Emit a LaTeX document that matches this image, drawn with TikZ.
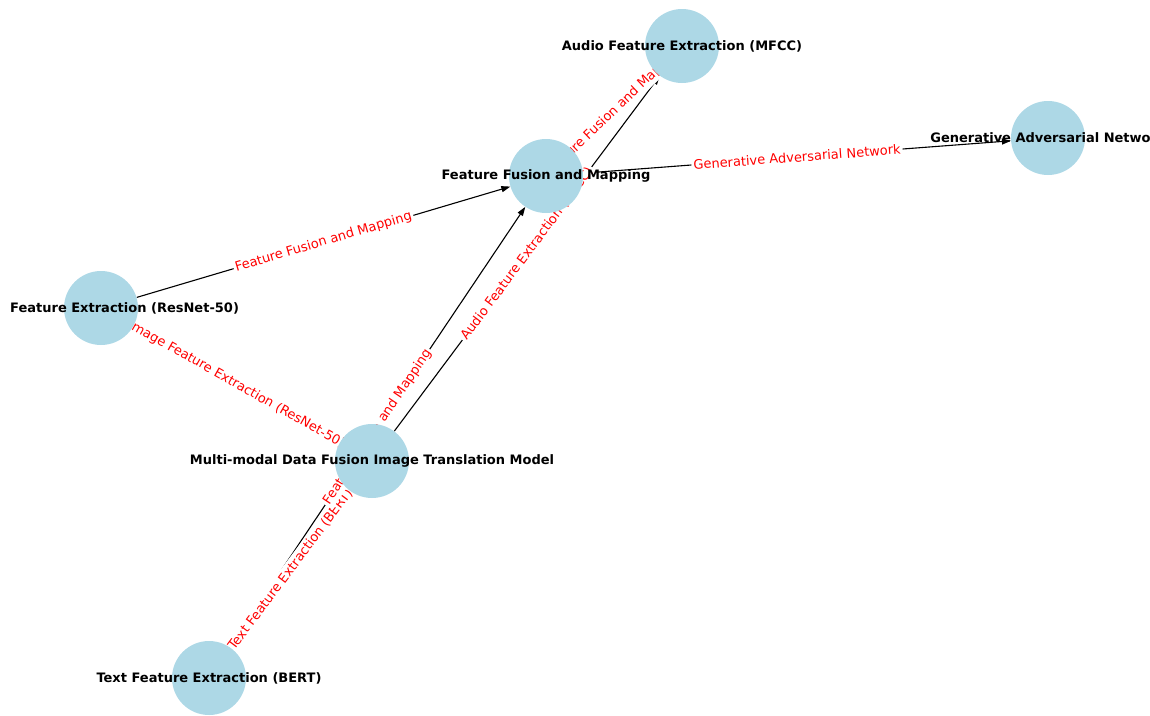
\documentclass[tikz,border=0pt]{standalone}
\usepackage{fontspec}
\setsansfont{DejaVu Sans}
\usetikzlibrary{arrows.meta}
\pgfdeclarelayer{edgelayer}
\pgfdeclarelayer{labellayer}
\pgfdeclarelayer{textlayer}
\pgfsetlayers{edgelayer,labellayer,main,textlayer}
\definecolor{nodeblue}{HTML}{ADD8E6}
\definecolor{lblred}{HTML}{FF0000}
\tikzset{
  vertex/.style={circle, fill=nodeblue, draw=none, minimum size=74pt, inner sep=0pt},
  vtext/.style={font=\sffamily\bfseries\fontsize{13}{15}\selectfont, text=black, inner sep=0pt},
  conn/.style={draw=black, line width=1.1pt, -{Triangle[length=9pt,width=6pt]}},
  elabel/.style={font=\sffamily\fontsize{13}{15}\selectfont, text=lblred, fill=white, rounded corners=3pt, inner sep=2pt, sloped, midway},
}
\begin{document}
\begin{tikzpicture}[x=1pt,y=-1pt]
\useasboundingbox (0,0) rectangle (1150,715);
% circles
\node[vertex] (audio)  at (682,46)  {};
\node[vertex] (gan)    at (1048,138) {};
\node[vertex] (ffm)    at (546,176) {};
\node[vertex] (resnet) at (101,308) {};
\node[vertex] (mm)     at (372,461) {};
\node[vertex] (text)   at (209,678) {};
% node texts
\begin{pgfonlayer}{textlayer}
\node[vtext] (audio-t)  at (audio)  {Audio Feature Extraction (MFCC)};
\node[vtext] (gan-t)    at (gan)    {Generative Adversarial Network};
\node[vtext] (ffm-t)    at (ffm)    {Feature Fusion and Mapping};
\node[vtext, anchor=west] (resnet-t) at (10,308) {Feature Extraction (ResNet-50)};
\node[vtext] (mm-t)     at (mm)     {Multi-modal Data Fusion Image Translation Model};
\node[vtext] (text-t)   at (text)   {Text Feature Extraction (BERT)};
\end{pgfonlayer}
% connectors
\begin{pgfonlayer}{edgelayer}
\draw[conn] (mm) -- (resnet);
\draw[conn] (mm) -- (text);
\draw[conn] (mm) -- (audio);
\draw[conn] (resnet) -- (ffm);
\draw[conn] (text) -- (ffm);
\draw[conn] (audio) -- (ffm);
\draw[conn] (ffm) -- (gan);
\end{pgfonlayer}
% connector labels
\begin{pgfonlayer}{labellayer}
\path (mm) -- (resnet) node[elabel] (l-img) {Image Feature Extraction (ResNet-50)};
\path (mm) -- (text) node[elabel] (l-txt) {Text Feature Extraction (BERT)};
\path (mm) -- (audio) node[elabel] (l-aud) {Audio Feature Extraction (MFCC)};
\path (resnet) -- (ffm) node[elabel] (l-rf) {Feature Fusion and Mapping};
\path (text) -- (ffm) node[elabel] (l-tf) {Feature Fusion and Mapping};
\path (audio) -- (ffm) node[elabel] (l-af) {Feature Fusion and Mapping};
\path (ffm) -- (gan) node[elabel] (l-gan) {Generative Adversarial Network};
\end{pgfonlayer}
\end{tikzpicture}
\end{document}
